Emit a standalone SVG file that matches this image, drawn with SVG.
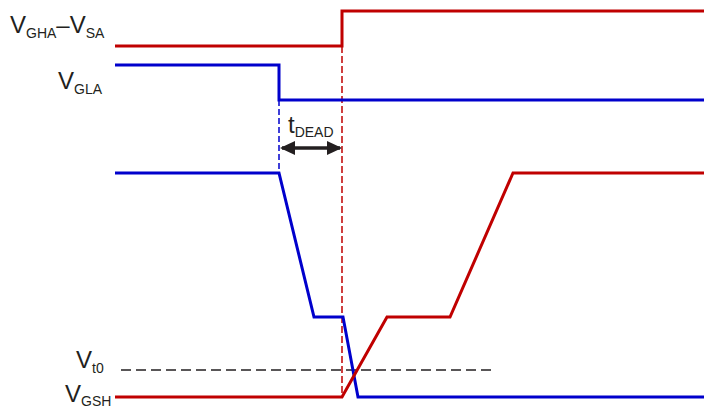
<svg xmlns="http://www.w3.org/2000/svg" width="704" height="409" viewBox="0 0 704 409">
<style>
text{font-family:"Liberation Sans",Arial,sans-serif;fill:#231f20}
.m{font-size:24px}
.s{font-size:14px}
.r{fill:none;stroke:#c00000;stroke-width:3;stroke-linejoin:miter}
.b{fill:none;stroke:#0000cc;stroke-width:3;stroke-linejoin:miter}
</style>
<defs>
<marker id="ah" markerWidth="15" markerHeight="14" refX="13" refY="7" orient="auto-start-reverse" markerUnits="userSpaceOnUse">
<path d="M0,0 L15,7 L0,14 Z" fill="#231f20"/>
</marker>
</defs>
<g id="connectors">
<line x1="279" y1="100" x2="279" y2="173" stroke="#0000cc" stroke-width="1.5" stroke-dasharray="6,3"/>
<line x1="342" y1="46" x2="342" y2="397" stroke="#c00000" stroke-width="1.5" stroke-dasharray="7,3"/>
<line x1="121" y1="370" x2="495" y2="370" stroke="#231f20" stroke-width="1.5" stroke-dasharray="10,5"/>
<line x1="282" y1="148" x2="340" y2="148" stroke="#231f20" stroke-width="3.5" marker-start="url(#ah)" marker-end="url(#ah)"/>
</g>
<g id="vgha">
<polyline class="r" points="115,46 342,46 342,11 704,11"/>
<text x="10" y="33" class="m">V<tspan class="s" dy="5">GHA</tspan><tspan dy="-5">–V</tspan><tspan class="s" dy="5">SA</tspan></text>
</g>
<g id="vgla">
<polyline class="b" points="115,65 279,65 279,100 704,100"/>
<text x="58" y="89" class="m">V<tspan class="s" dy="5">GLA</tspan></text>
</g>
<g id="tdead">
<text x="288" y="133" class="m">t<tspan class="s" dy="4">DEAD</tspan></text>
</g>
<g id="vgsl">
<polyline class="b" points="115,173 279,173 314,317 343,317 358,397 704,397"/>
</g>
<g id="vgsh">
<polyline class="r" points="115,397 342,397 387,317 450,317 513,173 704,173"/>
<text x="65" y="402" class="m">V<tspan class="s" dy="4">GSH</tspan></text>
</g>
<g id="vt0">
<text x="76" y="368" class="m">V<tspan class="s" dy="5">t0</tspan></text>
</g>
</svg>
